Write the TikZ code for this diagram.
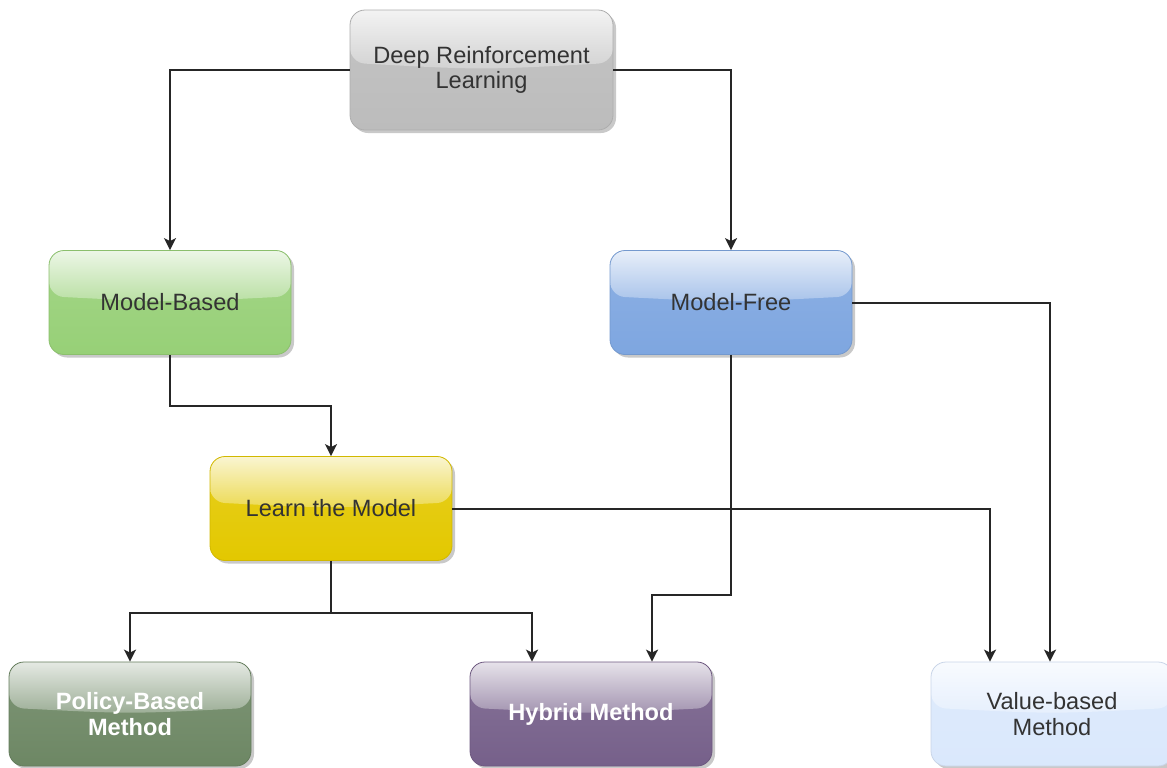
\documentclass[tikz,border=0pt]{standalone}
\usepackage{fontspec}
\setmainfont{Liberation Sans}
\usetikzlibrary{arrows.meta,calc,shadows}

\definecolor{drlC}{HTML}{BCBCBC}
\definecolor{mbC}{HTML}{97D077}
\definecolor{mfC}{HTML}{7EA6E0}
\definecolor{lmC}{HTML}{E3C800}
\definecolor{pbC}{HTML}{6D8764}
\definecolor{hyC}{HTML}{76608A}
\definecolor{vbC}{HTML}{DAE8FC}
\definecolor{txtC}{HTML}{333333}

\tikzset{
  % glossy rounded box: solid lower part, soft sheen on the upper part
  glossy/.style={
    draw=#1!92!black, line width=0.4pt,
    rounded corners=7.5pt,
    drop shadow={shadow xshift=1.5pt, shadow yshift=-1.5pt, opacity=0.3, fill=black!70},
    path picture={
      \coordinate (pnw) at (path picture bounding box.north west);
      \coordinate (pne) at (path picture bounding box.north east);
      \coordinate (psw) at (path picture bounding box.south west);
      \coordinate (pse) at (path picture bounding box.south east);
      \shade[top color=#1!88!white, bottom color=#1] (pnw) rectangle (pse);
      \shade[top color=#1!18!white, bottom color=#1!68!white]
        (pnw) -- (pne) -- ($(pne)!0.44!(pse)$)
        .. controls ($($(pnw)!0.5!(pne)$)!0.5!($(psw)!0.5!(pse)$)$) ..
        ($(pnw)!0.44!(psw)$) -- cycle;
    }
  },
  box/.style={glossy=#1, minimum width=121pt, minimum height=52pt,
    inner sep=2pt, align=center, text=txtC,
    font=\fontsize{11.8}{12.6}\selectfont},
  darkbox/.style={box=#1, text=white,
    font=\fontsize{11.8}{12.6}\selectfont\bfseries},
  conn/.style={draw=black!85, line width=1pt,
    -{Stealth[length=6pt, width=6pt, inset=1.5pt]}},
  link/.style={draw=black!85, line width=1pt}
}

\begin{document}
\begin{tikzpicture}[x=0.5pt, y=-0.5pt]
  \useasboundingbox (0,0) rectangle (1167,767);

  % nodes
  \node[box=drlC, minimum width=131.5pt, minimum height=60pt] (drl) at (481.5,70)
    {Deep Reinforcement\\Learning};
  \node[box=mbC] (mb) at (170,302.5) {Model-Based};
  \node[box=mfC] (mf) at (731,302.5) {Model-Free};
  \node[box=lmC] (lm) at (331,508.5) {Learn the Model};
  \node[darkbox=pbC] (pb) at (130,714) {Policy-Based\\Method};
  \node[darkbox=hyC] (hy) at (591,714) {Hybrid Method};
  \node[box=vbC] (vb) at (1052,714) {Value-based\\Method};

  % bend points
  \path (mb.south) ++(0,51) coordinate (mbbend);
  \path (mf.south) ++(0,240) coordinate (mfbend);
  \path (lm.south) ++(0,52) coordinate (split);

  % connectors
  \draw[conn] (drl.west) -| (mb.north);
  \draw[conn] (drl.east) -| (mf.north);
  \draw[conn] (mb.south) -- (mbbend) -| (lm.north);
  \draw[conn] (mf.east) -| ([xshift=-1pt]vb.north);
  \draw[conn] (mf.south) -- (mfbend) -| ([xshift=30.5pt]hy.north);
  \draw[conn] (lm.east) -| ([xshift=-31pt]vb.north);
  \draw[link] (lm.south) -- (split);
  \draw[conn] (split) -| (pb.north);
  \draw[conn] (split) -| ([xshift=-29.5pt]hy.north);
\end{tikzpicture}
\end{document}
